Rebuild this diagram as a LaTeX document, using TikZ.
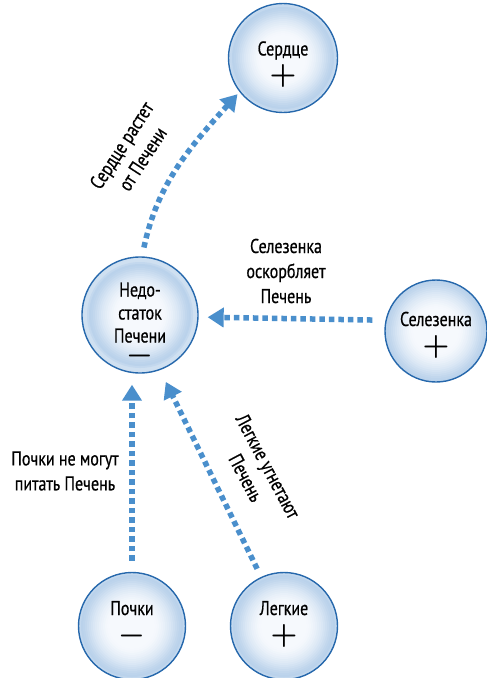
\documentclass[tikz,border=0pt]{standalone}
\usepackage[no-math]{fontspec}
\setmainfont[FakeStretch=0.8, FakeBold=0.6]{PT Sans}
\usetikzlibrary{arrows.meta}

\definecolor{linkblue}{RGB}{74,143,204}
\definecolor{rimblue}{RGB}{38,104,172}
\definecolor{glowin}{RGB}{246,249,253}
\definecolor{glowout}{RGB}{186,210,235}

\newcommand{\organplus}{\smash{\normalsize\scalebox{3}{\boldmath$+$}}}
\newcommand{\organminus}{\smash{\normalsize\scalebox{3}{\boldmath$-$}}}

\begin{document}
\begin{tikzpicture}[x=1pt, y=1pt, node distance=311pt,
    organ node/.style={circle, draw=rimblue, line width=1.4pt, minimum size=107pt, inner sep=0pt, align=center, font=\fontsize{20}{23}\selectfont,
        path picture={\foreach \rad/\tint in {60/65, 53/85, 51/100, 49/95, 47/86, 45/76, 43/66, 41/56, 39/47, 37/39, 35/31, 33/24, 31/17, 29/11, 27/6, 25/2, 23/0}
            \fill[glowout!\tint!glowin] (path picture bounding box.center) circle (\rad pt);}},
    link/.style={draw=linkblue, line width=5.5pt, dash pattern=on 5.5pt off 4pt, -{Triangle[length=16pt, width=19pt, fill=linkblue]}, shorten <=9pt},
    note/.style={align=center, font=\fontsize{20}{25}\selectfont}]
                \useasboundingbox (0,0) rectangle (487,-678);

                \node[organ node, minimum size=116pt] (liver) at (140,-315) {\rule{0pt}{30pt}Недо-\\статок\\Печени\\[-2pt]\organminus};
                \node[organ node, minimum size=109pt] (heart) [above of = liver, xshift = 143, yshift = -54] {\rule{0pt}{23pt}Сердце\\[5pt]\organplus};
                \node[organ node, minimum size=102pt] (spleen) [right of = liver, xshift = -15, yshift = -16] {\rule{0pt}{18pt}Селезенка\\[5pt]\organplus};
                \node[organ node] (kidneys) [below of = liver, xshift = -8] {Почки\\[5pt]\organminus\rule[-8pt]{0pt}{8pt}};
                \node[organ node] (lungs) [below of = liver, xshift = 144] {Легкие\\[5pt]\organplus\rule[-8pt]{0pt}{8pt}};

                \node[note, rotate = 57] (heartnote) at (132,-152) {Сердце растет\\от Печени};
                \node[note] (spleennote) at (286,-271) {Селезенка\\оскорбляет\\Печень};
                \node[note] (kidneynote) at (65,-471) {Почки не могут\\питать Печень};
                \node[note, rotate = -62] (lungnote) at (257,-472) {Легкие угнетают\\Печень};

                \draw[link, shorten >=3pt] (liver.88) to[out = 78, in = 228] (heart.218);
                \draw[link, shorten <=13pt, shorten >=9pt] (spleen.168) -- (liver.358);
                \draw[link, shorten <=11pt, shorten >=11pt] (kidneys.north) -- (kidneys.north |- liver.south);
                \draw[link, shorten >=13pt] (lungs.115) -- (liver.290);
            \end{tikzpicture}
\end{document}
